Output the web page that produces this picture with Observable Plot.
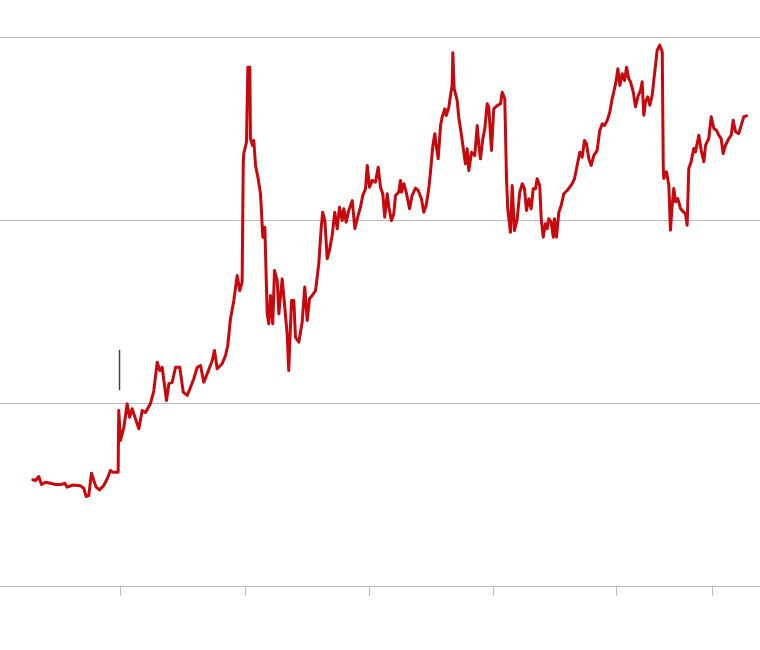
<!DOCTYPE html>
<html>
<head>
<meta charset="utf-8">
<script src="https://cdn.jsdelivr.net/npm/d3@7"></script>
<script src="https://cdn.jsdelivr.net/npm/@observablehq/plot@0.6"></script>
<style>
  html, body { margin: 0; padding: 0; background: #fff; }
  #chart svg { display: block; }
</style>
</head>
<body>
<div id="chart"></div>
<script>
// Time (decimal years) and values
const years = [
  2009.293, 2009.315, 2009.341, 2009.363, 2009.395, 2009.435, 2009.476, 2009.516, 2009.551, 2009.570,
  2009.610, 2009.677, 2009.704, 2009.723, 2009.744, 2009.766, 2009.785, 2009.804, 2009.831, 2009.865,
  2009.893, 2009.919, 2009.938, 2009.981, 2009.986, 2010.000, 2010.027, 2010.054, 2010.073, 2010.094,
  2010.121, 2010.148, 2010.175, 2010.202, 2010.242, 2010.269, 2010.296, 2010.317, 2010.336, 2010.371,
  2010.390, 2010.417, 2010.444, 2010.478, 2010.506, 2010.538, 2010.565, 2010.591, 2010.619, 2010.645,
  2010.672, 2010.699, 2010.740, 2010.758, 2010.780, 2010.820, 2010.847, 2010.865, 2010.887, 2010.914,
  2010.941, 2010.962, 2010.981, 2010.990, 2010.994, 2011.016, 2011.027, 2011.043, 2011.048, 2011.065,
  2011.075, 2011.089, 2011.110, 2011.129, 2011.148, 2011.164, 2011.183, 2011.196, 2011.210, 2011.228,
  2011.242, 2011.264, 2011.277, 2011.304, 2011.325, 2011.344, 2011.357, 2011.379, 2011.398, 2011.411,
  2011.438, 2011.465, 2011.486, 2011.506, 2011.524, 2011.546, 2011.573, 2011.599, 2011.619, 2011.631,
  2011.648, 2011.667, 2011.685, 2011.707, 2011.728, 2011.748, 2011.766, 2011.788, 2011.801, 2011.820,
  2011.841, 2011.869, 2011.890, 2011.909, 2011.935, 2011.954, 2011.976, 2011.990, 2012.008, 2012.030,
  2012.056, 2012.078, 2012.097, 2012.115, 2012.131, 2012.151, 2012.164, 2012.185, 2012.204, 2012.218,
  2012.244, 2012.258, 2012.266, 2012.285, 2012.304, 2012.331, 2012.352, 2012.379, 2012.401, 2012.427,
  2012.446, 2012.465, 2012.486, 2012.500, 2012.519, 2012.535, 2012.546, 2012.562, 2012.581, 2012.594,
  2012.615, 2012.627, 2012.648, 2012.661, 2012.675, 2012.680, 2012.691, 2012.715, 2012.728, 2012.750,
  2012.769, 2012.782, 2012.796, 2012.809, 2012.831, 2012.857, 2012.877, 2012.890, 2012.903, 2012.922,
  2012.938, 2012.957, 2012.970, 2012.992, 2013.010, 2013.038, 2013.065, 2013.078, 2013.099, 2013.113,
  2013.123, 2013.145, 2013.159, 2013.177, 2013.199, 2013.220, 2013.240, 2013.258, 2013.274, 2013.293,
  2013.312, 2013.328, 2013.347, 2013.360, 2013.381, 2013.393, 2013.409, 2013.427, 2013.441, 2013.454,
  2013.473, 2013.490, 2013.500, 2013.516, 2013.535, 2013.554, 2013.575, 2013.602, 2013.623, 2013.643,
  2013.661, 2013.683, 2013.704, 2013.723, 2013.742, 2013.758, 2013.777, 2013.796, 2013.817, 2013.844,
  2013.865, 2013.885, 2013.903, 2013.925, 2013.946, 2013.965, 2013.984, 2014.000, 2014.011, 2014.027,
  2014.046, 2014.065, 2014.081, 2014.099, 2014.113, 2014.135, 2014.153, 2014.172, 2014.194, 2014.207,
  2014.220, 2014.234, 2014.252, 2014.269, 2014.288, 2014.301, 2014.315, 2014.328, 2014.349, 2014.369,
  2014.377, 2014.381, 2014.403, 2014.422, 2014.435, 2014.449, 2014.462, 2014.476, 2014.494, 2014.516,
  2014.538, 2014.556, 2014.570, 2014.583, 2014.602, 2014.623, 2014.637, 2014.664, 2014.683, 2014.704,
  2014.718, 2014.744, 2014.764, 2014.785, 2014.806, 2014.825, 2014.844, 2014.860, 2014.879, 2014.906,
  2014.925, 2014.941, 2014.960, 2014.986, 2015.006, 2015.027, 2015.048
];
const values = [
  58.3, 57.9, 60.1, 55.7, 57.0, 56.4, 55.7, 55.7, 56.4, 54.3,
  55.4, 55.0, 53.7, 49.2, 49.7, 61.9, 57.9, 54.3, 52.8, 55.2,
  58.9, 63.4, 62.5, 62.5, 96.2, 79.8, 87.0, 99.8, 92.5, 97.1,
  91.6, 86.2, 96.2, 95.1, 100.0, 107.1, 122.6, 118.0, 119.8, 101.6,
  110.8, 111.6, 119.8, 119.8, 106.2, 104.4, 108.9, 113.5, 119.8, 120.8,
  111.6, 116.2, 123.5, 129.0, 119.0, 121.7, 126.2, 131.7, 146.3, 156.3,
  169.9, 161.7, 166.3, 231.9, 236.4, 242.8, 283.8, 283.8, 244.8, 241.0,
  243.7, 230.1, 223.0, 214.6, 190.9, 196.3, 149.0, 143.6, 159.0, 143.6,
  172.7, 167.2, 149.0, 168.1, 152.6, 138.1, 118.0, 156.3, 156.3, 136.2,
  133.5, 144.4, 163.6, 145.4, 157.2, 159.0, 161.7, 176.3, 196.3, 204.5,
  200.0, 179.1, 183.6, 191.8, 204.5, 195.5, 207.3, 200.0, 206.4, 199.1,
  205.5, 210.9, 195.5, 200.9, 207.3, 213.7, 217.3, 230.1, 218.2, 221.9,
  220.9, 229.1, 218.2, 214.6, 201.8, 214.6, 207.3, 200.0, 203.7, 213.7,
  215.5, 221.9, 215.5, 220.1, 215.5, 206.4, 213.7, 217.7, 216.4, 211.9,
  204.5, 208.2, 217.3, 226.4, 241.0, 247.4, 241.0, 233.7, 251.9, 256.5,
  261.0, 257.4, 261.9, 268.3, 273.8, 291.6, 272.0, 265.6, 256.5, 246.4,
  237.3, 231.0, 239.2, 227.3, 237.3, 235.5, 251.9, 241.0, 233.7, 244.6,
  250.1, 263.8, 261.9, 238.3, 261.0, 262.8, 263.8, 270.1, 266.5, 222.8,
  206.4, 193.6, 219.1, 194.5, 200.9, 215.5, 220.1, 217.3, 205.5, 211.9,
  206.4, 217.3, 217.3, 222.8, 219.1, 200.9, 190.9, 198.2, 195.5, 200.9,
  199.1, 190.9, 200.9, 190.9, 204.5, 208.2, 214.6, 216.4, 218.2, 220.1,
  222.8, 230.1, 237.3, 234.6, 243.7, 241.9, 233.7, 230.1, 235.5, 238.3,
  249.2, 252.8, 251.9, 254.6, 259.2, 266.5, 272.0, 277.4, 282.9, 273.8,
  280.2, 276.5, 283.8, 277.4, 275.8, 270.3, 262.1, 267.6, 271.2, 275.8,
  257.5, 264.9, 267.6, 263.0, 268.5, 276.7, 284.9, 293.1, 295.8, 292.2,
  230.2, 223.0, 226.6, 219.3, 194.7, 208.4, 217.5, 210.2, 212.0, 206.6,
  204.8, 203.8, 197.4, 228.4, 232.1, 239.3, 237.5, 246.6, 238.4, 232.1,
  241.1, 244.8, 256.7, 250.3, 249.3, 246.6, 244.8, 236.6, 241.1, 244.8,
  246.6, 254.8, 248.5, 247.5, 252.1, 256.7, 257.2
];
const gridValues = [0, 100, 200, 300];
const xTickValues = [2010, 2011.008, 2012.008, 2013.008, 2014.0, 2014.774];
const markerYear = [2009.992];
const markerLow = [107];
const markerHigh = [129];

const data = years.map((t, i) => ({t, v: values[i]}));
const marker = markerYear.map((t, i) => ({t, y1: markerLow[i], y2: markerHigh[i]}));

const chart = Plot.plot({
  width: 760,
  height: 650,
  marginTop: 37,
  marginBottom: 64,
  marginLeft: 0,
  marginRight: 0,
  style: {background: "#fff", color: "#bbb", overflow: "visible"},
  x: {
    type: "linear",
    domain: [2009.0323, 2015.1613],
    ticks: xTickValues,
    tickSize: 10,
    tickFormat: () => "",
    label: null
  },
  y: {domain: [0, 300], axis: null},
  marks: [
    Plot.ruleY(gridValues, {stroke: "#bbb", strokeWidth: 1}),
    Plot.ruleX(marker, {x: "t", y1: "y1", y2: "y2", stroke: "#444", strokeWidth: 1.5}),
    Plot.line(data, {x: "t", y: "v", stroke: "#c8080c", strokeWidth: 3, strokeLinejoin: "round", strokeLinecap: "round"})
  ]
});
document.getElementById("chart").appendChild(chart);
</script>
</body>
</html>
